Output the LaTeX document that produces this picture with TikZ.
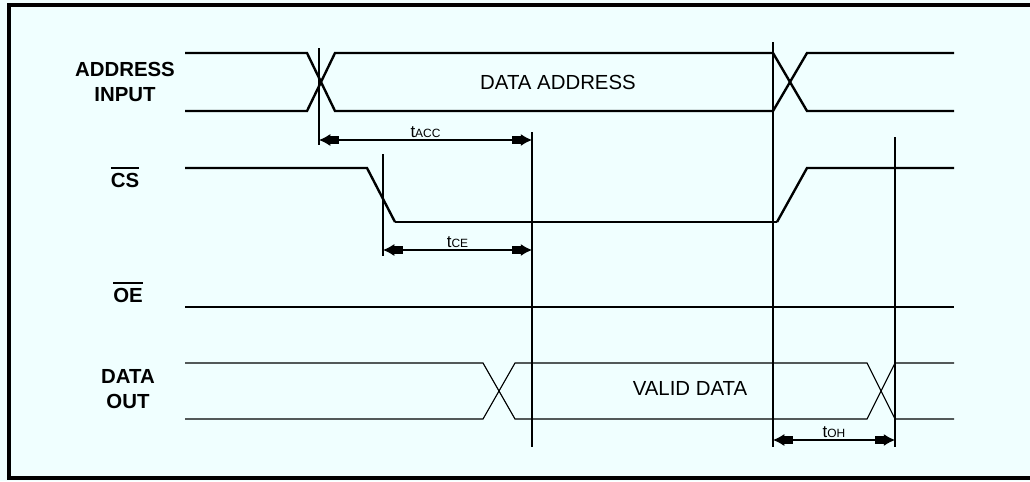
\documentclass[tikz,border=0pt]{standalone}
\usepackage{fontspec}
\setmainfont{Liberation Sans}
\usetikzlibrary{arrows.meta}
\definecolor{paper}{RGB}{240,255,255}
\newcommand{\ovbar}[1]{\leavevmode\vbox{\hrule height 1.4pt\kern 3.2pt\hbox{#1}}}
\newcommand{\tlab}[1]{{\fontsize{12}{12}\selectfont t}{\fontsize{8.5}{9}\selectfont #1}}

\begin{document}
\begin{tikzpicture}[x=0.025cm, y=-0.025cm,
  sigbold/.style={line width=1.7pt, line join=miter},
  sigthin/.style={line width=0.8pt},
  mark1/.style={line width=1.7pt},
  mark2/.style={line width=0.8pt},
  dim/.style={line width=0.8pt,
    {Latex[length=8pt,width=8.5pt]Rectangle[length=6pt,width=6pt]}-%
    {Rectangle[length=6pt,width=6pt]Latex[length=8pt,width=8.5pt]}},
  rowlab/.style={font=\fontsize{14.5}{17.5}\selectfont\bfseries, align=center},
  buslab/.style={font=\fontsize{14.5}{17.5}\selectfont},
  tlabel/.style={inner sep=1pt, anchor=south}]

% paper and frame
\fill[paper] (0,0) rectangle (1030,481);
\useasboundingbox (0,0) rectangle (1030,481);
\draw[line width=2.2pt] (1030,5) -- (9,5) -- (9,478) -- (1030,478);

% row labels
\node[rowlab] (addr) at (125,82) {ADDRESS\\INPUT};
\node[rowlab] (cs) at (125,177) {\ovbar{CS}};
\node[rowlab] (oe) at (128,292) {\ovbar{OE}};
\node[rowlab] (dout) at (128,389) {DATA\\OUT};

% address input
\draw[sigbold] (185,53) -- (307,53) -- (335,111) -- (773,111) -- (807,53) -- (954,53);
\draw[sigbold] (185,111) -- (307,111) -- (335,53) -- (773,53) -- (807,111) -- (954,111);
\node[buslab] (daddr) at (558,82) {DATA ADDRESS};

% chip select
\draw[sigbold] (185,168) -- (367,168) -- (395,222);
\draw[sigthin] (395,222) -- (777,222);
\draw[sigbold] (777,222) -- (807,168) -- (954,168);

% output enable
\draw[sigthin] (185,307) -- (954,307);

% data out
\draw[sigthin] (185,363) -- (483,363) -- (515,419) -- (867,419) -- (895,363) -- (954,363);
\draw[sigthin] (185,419) -- (483,419) -- (515,363) -- (867,363) -- (895,419) -- (954,419);
\node[buslab] (valid) at (690,388) {VALID DATA};

% reference lines
\coordinate (v1t) at (319,48);   \coordinate (v1b) at (319,145);
\coordinate (v2t) at (532,132);  \coordinate (v2b) at (532,447);
\coordinate (v3t) at (383,154);  \coordinate (v3b) at (383,256);
\coordinate (v4t) at (773,42);   \coordinate (v4b) at (773,447);
\coordinate (v5t) at (895,137);  \coordinate (v5b) at (895,447);
\draw[mark1] (v1t) -- (v1b);
\draw[mark1] (v2t) -- (v2b);
\draw[mark1] (v3t) -- (v3b);
\draw[mark2] (v4t) -- (v4b);
\draw[mark1] (v5t) -- (v5b);

% timing arrows
\coordinate (acc0) at (v1t |- 0,140);  \coordinate (acc1) at (v2t |- 0,140);
\coordinate (ce0) at (v3t |- 0,250);   \coordinate (ce1) at (v2t |- 0,250);
\coordinate (oh0) at (v4t |- 0,440);   \coordinate (oh1) at (v5t |- 0,440);
\draw[dim] (acc0) -- node[tlabel] (tacc) {\tlab{ACC}} (acc1);
\draw[dim] (ce0) -- node[tlabel] (tce) {\tlab{CE}} (ce1);
\draw[dim] (oh0) -- node[tlabel] (toh) {\tlab{OH}} (oh1);

\end{tikzpicture}
\end{document}
